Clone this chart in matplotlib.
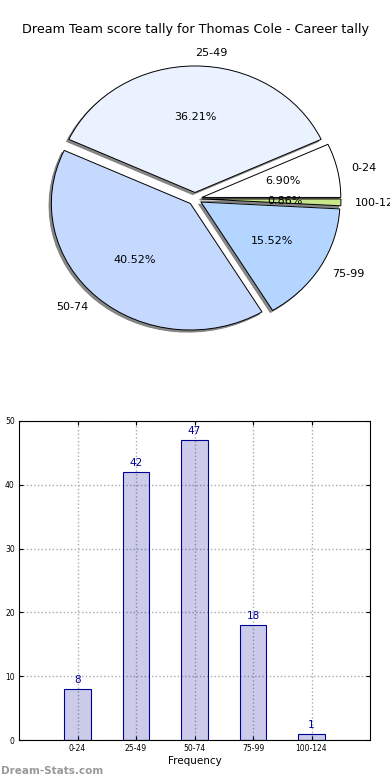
import numpy as np
import matplotlib
matplotlib.use("Agg")
import matplotlib.pyplot as plt

# data
categories = ["0-24", "25-49", "50-74", "75-99", "100-124"]
counts = [8, 42, 47, 18, 1]
pie_colors = ["#FFFFFF", "#EAF2FF", "#C5D9FF", "#B3D5FF", "#C8E68A"]
y_ticks = [0, 10, 20, 30, 40, 50]

title = "Dream Team score tally for Thomas Cole - Career tally"
W, H = 390, 780

fig = plt.figure(figsize=(W / 100, H / 100), dpi=100, facecolor="white")

fig.text(0.5, 1 - 30 / H, title, ha="center", va="center", fontsize=9.2)

# pie axes: not equal aspect, slightly squashed like the original
cx, cy = 195, 198.8
rx, ry = 139.0, 126.5
ax_top, ax_bot = 38.8, 358.8
ax1 = fig.add_axes([0, 1 - ax_bot / H, 1, (ax_bot - ax_top) / H])
wedges, texts, autotexts = ax1.pie(
    counts, labels=categories, colors=pie_colors, explode=[0.05] * len(counts),
    autopct="%.2f%%", startangle=0, labeldistance=1.1, pctdistance=0.6,
    shadow=dict(ox=-0.012, oy=-0.012, facecolor="#7a7a7a", edgecolor="#7a7a7a", alpha=0.9),
    wedgeprops=dict(edgecolor="black", linewidth=0.7),
    textprops=dict(fontsize=8))
# labels on the right half are left aligned
for t in texts:
    if t.get_position()[0] >= -1e-6:
        t.set_ha("left")
ax1.set_aspect("auto")
ax1.set_xlim(-cx / rx, (W - cx) / rx)
half_h = (ax_bot - ax_top) / 2 / ry
ax1.set_ylim(-half_h, half_h)
ax1.axis("off")

# bar chart
ax2 = fig.add_axes([19 / W, 1 - 740 / H, (370 - 19) / W, (740 - 421) / H])
x = np.arange(len(categories))
ax2.bar(x, counts, width=0.45, color=(0, 0, 0.6, 0.2), edgecolor="#000099", linewidth=0.8, zorder=3)
for xi, c in zip(x, counts):
    ax2.text(xi, c + 0.6, str(c), ha="center", va="bottom", fontsize=7.5, color="#000099")
ax2.set_xlim(-1, 5)
ax2.set_ylim(0, 50)
ax2.set_xticks(x)
ax2.set_xticklabels(categories)
ax2.set_yticks(y_ticks)
ax2.tick_params(labelsize=5.5, direction="in", top=True, right=True, length=3, pad=3)
ax2.grid(True, linestyle=":", color="#AAAAAA", linewidth=1, zorder=1)
ax2.set_axisbelow(True)
ax2.set_xlabel("Frequency", fontsize=7.5, labelpad=2)

fig.text(1 / W, 1 - 771 / H, "Dream-Stats.com", ha="left", va="center",
         fontsize=7.5, color="#999999", fontweight="bold")

fig.savefig("out.png", dpi=100)
